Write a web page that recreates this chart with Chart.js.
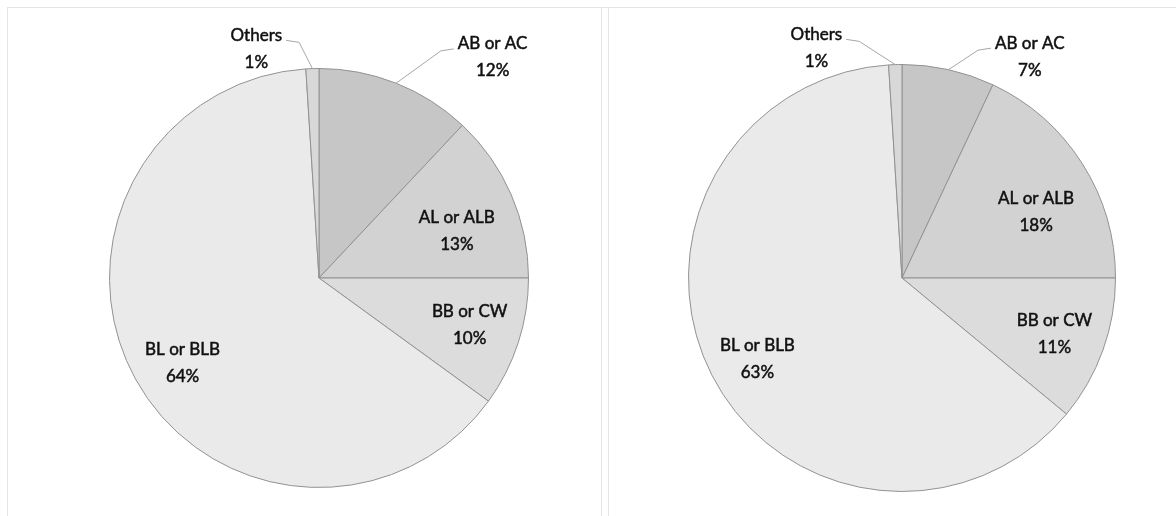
<!doctype html>
<html lang="en">
<head>
  <meta charset="utf-8">
  <title>Share by type</title>
  <script src="https://cdn.jsdelivr.net/npm/chart.js"></script>
  <style>
    html,body{margin:0;padding:0;background:#fff;}
    body{width:1176px;height:516px;position:relative;overflow:hidden;}
    .panel{position:absolute;top:0;height:516px;}
    /* faint frame lines from the scanned original */
    .rule{position:absolute;background:#e4e4e4;}
  </style>
</head>
<body>
  <div class="rule" style="left:7px;top:7px;width:1169px;height:1px"></div>
  <div class="rule" style="left:7px;top:7px;width:1px;height:509px"></div>
  <div class="rule" style="left:601px;top:7px;width:1px;height:509px"></div>
  <div class="rule" style="left:608px;top:7px;width:1px;height:509px"></div>

  <div class="panel" style="left:0;width:600px"><canvas id="left" width="600" height="516"></canvas></div>
  <div class="panel" style="left:600px;width:576px"><canvas id="right" width="576" height="516"></canvas></div>

  <script>
    /* ─── data ─── */
    const SLICES       = ['AB or AC', 'AL or ALB', 'BB or CW', 'BL or BLB', 'Others'];
    const LEFT_VALUES  = [12, 13, 10, 64, 1];
    const RIGHT_VALUES = [7, 18, 11, 63, 1];
    const FILLS        = ['#c6c6c6', '#d2d2d2', '#dcdcdc', '#eaeaea', '#d8d8d8'];

    /* label spots: [angle deg (canvas, 0 = 3 o'clock), distance as fraction of radius, leader?] */
    const LEFT_SPOTS  = [[-51.8,1.34,true],[-18.8,0.695,false],[17.3,0.753,false],[148,0.768,false],[-105.3,1.134,true]];
    const RIGHT_SPOTS = [[-60,1.197,true],[-26.2,0.70,false],[20.1,0.76,false],[150.8,0.776,false],[-110.4,1.15,true]];

    const FONT = '17px Lato, "Open Sans", sans-serif';
    const LINE = 27;

    const sliceLabels = {
      id: 'sliceLabels',
      afterDraw(chart, args, opts) {
        const {ctx} = chart;
        const arcs = chart.getDatasetMeta(0).data;
        const vals = chart.data.datasets[0].data;
        ctx.save();
        ctx.font = FONT;
        ctx.textAlign = 'center';
        ctx.textBaseline = 'middle';
        arcs.forEach((arc, i) => {
          const [deg, frac, leader] = opts.spots[i];
          const a = deg * Math.PI / 180;
          const r = arc.outerRadius;
          const cx = arc.x + Math.cos(a) * r * frac;
          const cy = arc.y + Math.sin(a) * r * frac;
          const l1 = chart.data.labels[i], l2 = vals[i] + '%';
          const y1 = cy - LINE / 2, y2 = cy + LINE / 2;

          if (leader) {
            const mid = (arc.startAngle + arc.endAngle) / 2;
            const ex = arc.x + Math.cos(mid) * r, ey = arc.y + Math.sin(mid) * r;
            const w = ctx.measureText(l1).width;
            const side = ex > cx ? 1 : -1;
            const sx = cx + side * (w / 2 + 4), sy = y1 + 5;
            ctx.strokeStyle = '#a6a6a6';
            ctx.lineWidth = 1;
            ctx.beginPath();
            ctx.moveTo(sx, sy);
            ctx.lineTo(sx + side * 13, sy + 2);
            ctx.lineTo(ex, ey);
            ctx.stroke();
          }
          // scanned text is heavy: fill plus a hairline stroke
          ctx.fillStyle = '#111';
          ctx.strokeStyle = '#111';
          ctx.lineWidth = 0.5;
          [[l1, y1], [l2, y2]].forEach(([t, y]) => {
            ctx.fillText(t, cx, y);
            ctx.strokeText(t, cx, y);
          });
        });
        ctx.restore();
      }
    };

    const makePie = (id, values, spots, padding) => new Chart(document.getElementById(id), {
      type: 'pie',
      data: {
        labels: SLICES,
        datasets: [{
          data: values,
          backgroundColor: FILLS,
          borderColor: '#929292',
          borderWidth: 1
        }]
      },
      options: {
        responsive: false,
        animation: false,
        layout: {padding},
        plugins: {
          legend: {display: false},
          tooltip: {enabled: false},
          sliceLabels: {spots}
        }
      },
      plugins: [sliceLabels]
    });

    makePie('left', LEFT_VALUES, LEFT_SPOTS, {left: 109, right: 71, top: 68, bottom: 28});
    makePie('right', RIGHT_VALUES, RIGHT_SPOTS, {left: 88, right: 60, top: 64, bottom: 24});
  </script>
</body>
</html>
